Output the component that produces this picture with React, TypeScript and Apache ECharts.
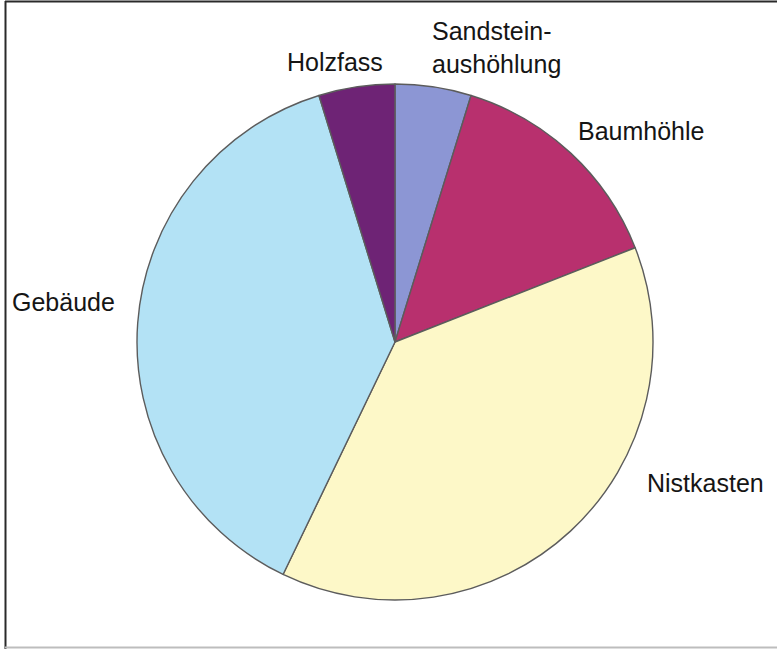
import React, { useEffect, useRef } from "react";
import * as echarts from "echarts";

const categories = ["Sandstein-\naushöhlung", "Baumhöhle", "Nistkasten", "Gebäude", "Holzfass"];
const values = [1, 3, 8, 8, 1];
const colors = ["#8c96d4", "#b8306e", "#fdf8c8", "#b3e2f5", "#6e2375"];
// label anchor (left x, middle y) per slice
const labelPos: [number, number][] = [
  [432, 47],
  [578, 131],
  [647, 483],
  [12, 302],
  [287, 62],
];

export default function App() {
  const ref = useRef<HTMLDivElement>(null);
  useEffect(() => {
    const chart = echarts.init(ref.current!, undefined, { renderer: "svg" });
    chart.setOption({
      animation: false,
      backgroundColor: "#ffffff",
      graphic: [
        { type: "line", shape: { x1: 5, y1: 1.5, x2: 777, y2: 1.5 }, style: { stroke: "#2a2a2a", lineWidth: 2 } },
        { type: "line", shape: { x1: 5.5, y1: 1, x2: 5.5, y2: 649 }, style: { stroke: "#2a2a2a", lineWidth: 2 } },
        { type: "line", shape: { x1: 5, y1: 647.5, x2: 777, y2: 647.5 }, style: { stroke: "#bdbdbd", lineWidth: 2 } },
      ],
      series: [
        {
          type: "pie",
          center: [395, 342],
          radius: 258,
          startAngle: 90,
          clockwise: true,
          avoidLabelOverlap: false,
          itemStyle: { borderColor: "#5c5c5c", borderWidth: 1.4 },
          label: {
            show: true,
            position: "outside",
            formatter: "{b}",
            fontFamily: "Liberation Sans, Arial, sans-serif",
            fontSize: 25,
            lineHeight: 33,
            color: "#151515",
          },
          labelLine: { show: false },
          labelLayout: (params: any) => {
            const p = labelPos[params.dataIndex];
            return { x: p[0], y: p[1], align: "left", verticalAlign: "middle" };
          },
          emphasis: { disabled: true },
          data: categories.map((name, i) => ({
            name,
            value: values[i],
            itemStyle: { color: colors[i] },
          })),
        },
      ],
    });
    return () => chart.dispose();
  }, []);
  return (
    <div
      ref={ref}
      style={{ position: "fixed", left: 0, top: 0, width: 777, height: 649 }}
    />
  );
}
